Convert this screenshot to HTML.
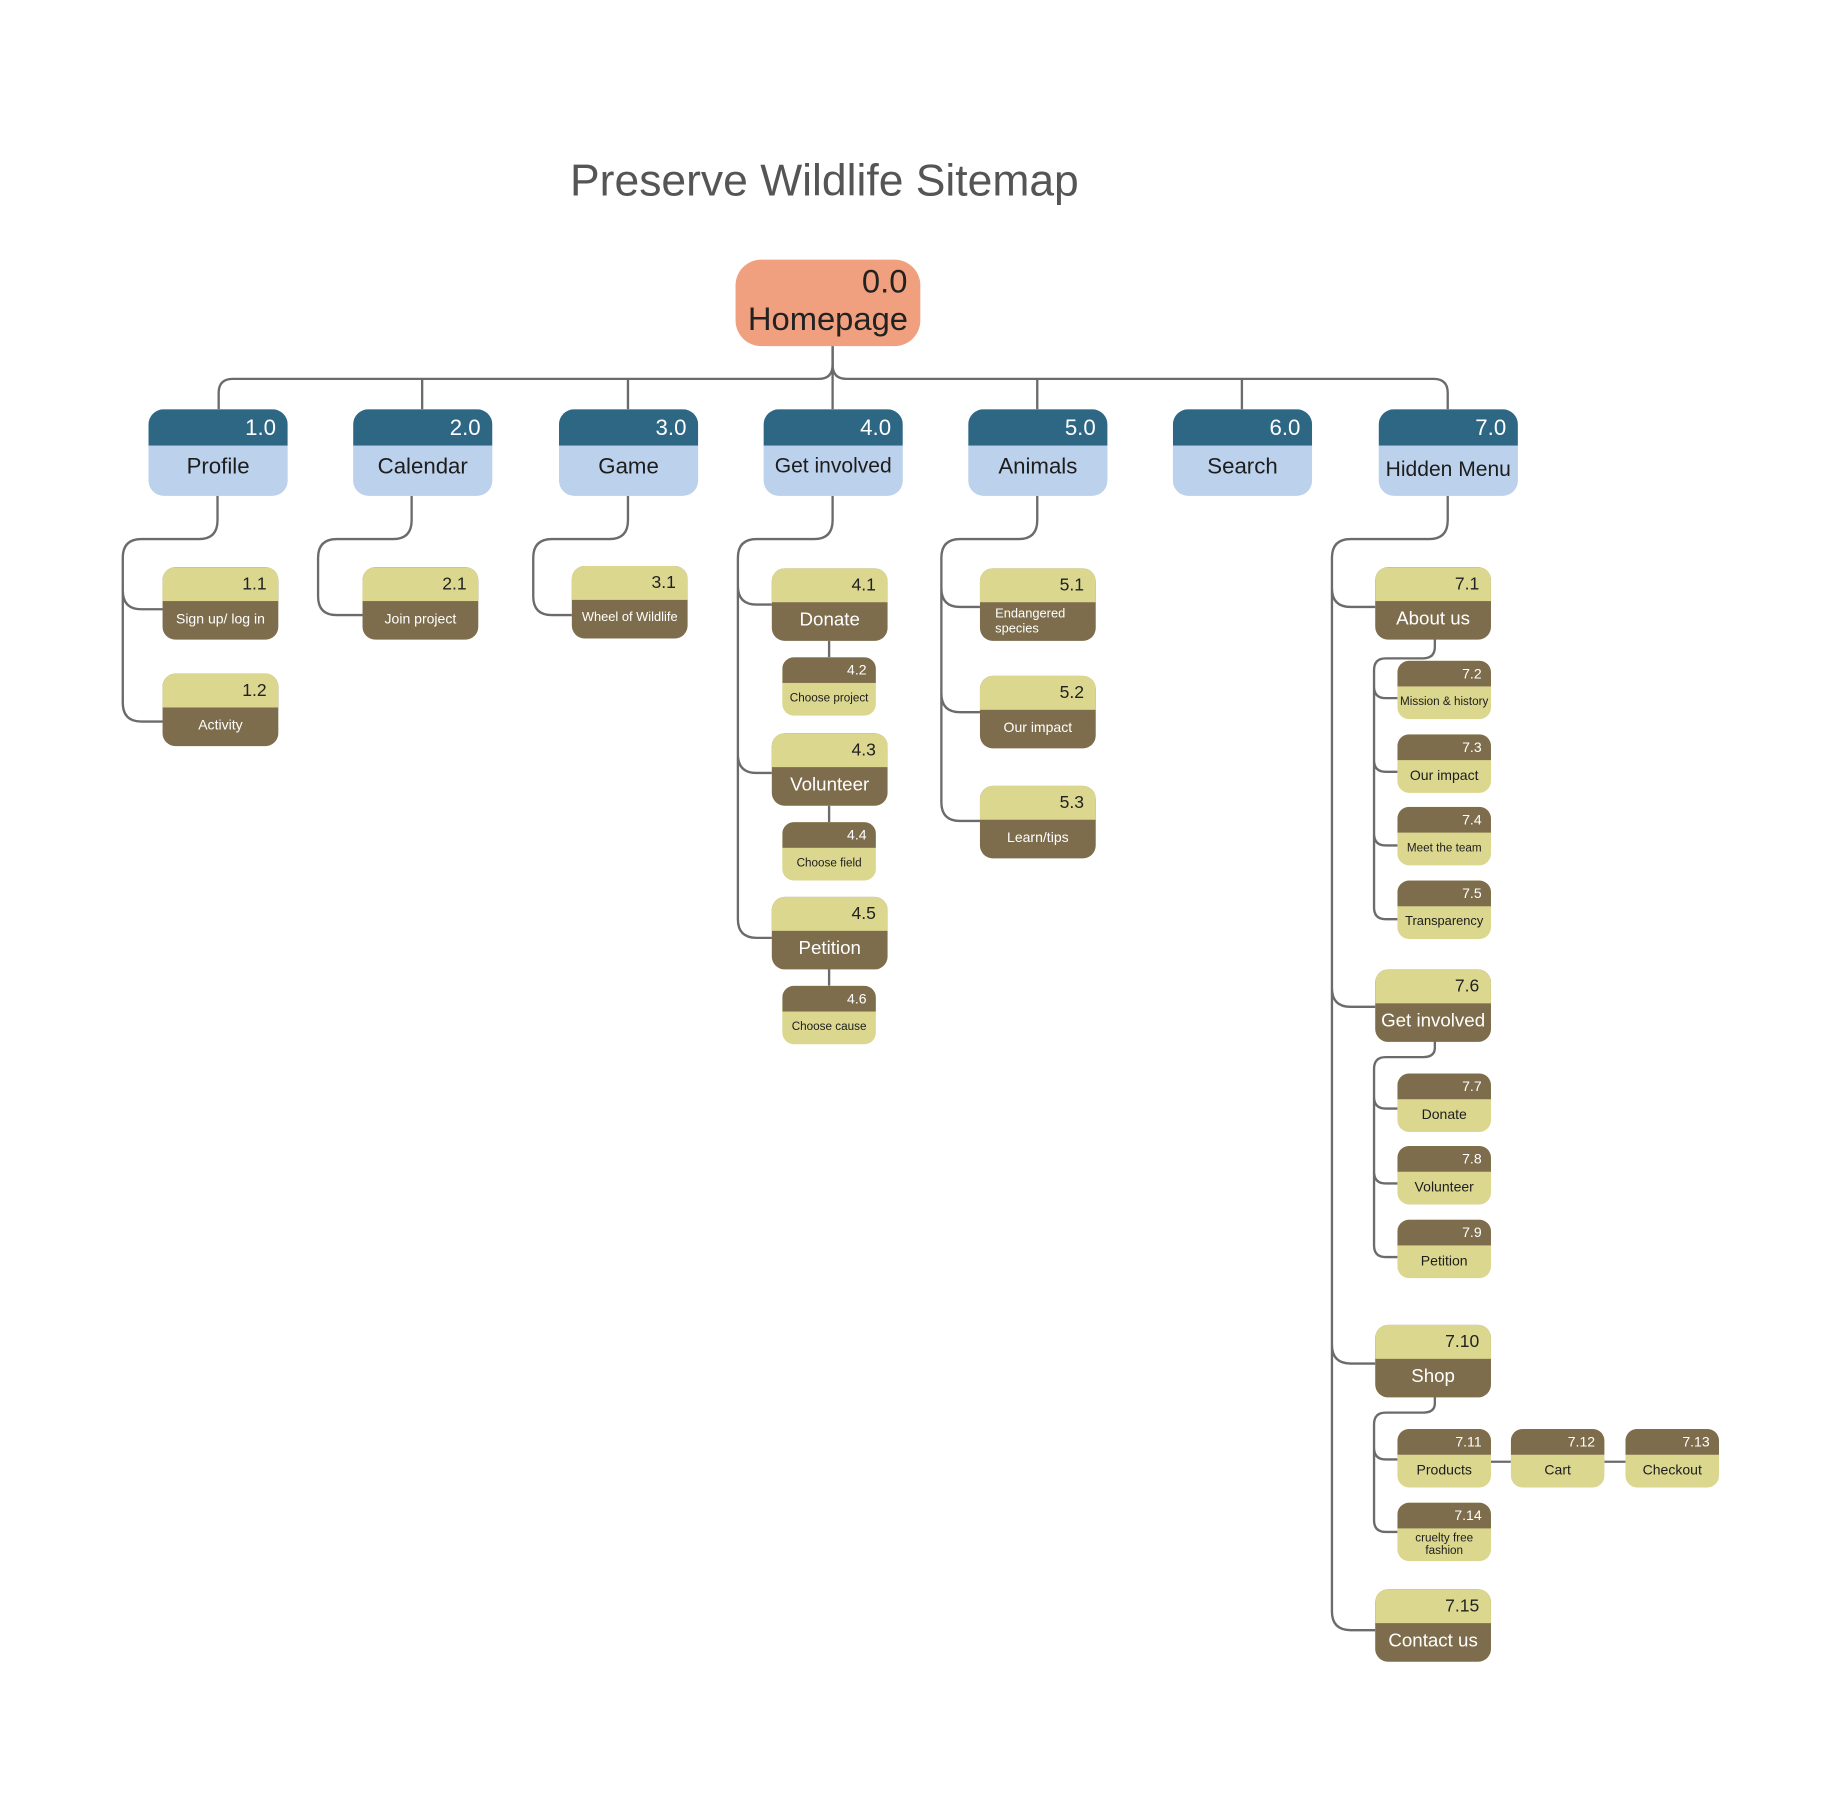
<!DOCTYPE html>
<html><head><meta charset="utf-8"><style>
html,body{margin:0;padding:0;background:#fff;}
body{width:1835px;height:1813px;overflow:hidden;position:relative;font-family:"Liberation Sans",sans-serif;}
#c{position:absolute;left:0;top:0;width:1570px;height:1550px;transform:scale(1.1694);transform-origin:0 0;}
.a{position:absolute;}
.l1{position:absolute;width:119px;height:74px;border-radius:13px;overflow:hidden;background:#BCD1EB;}
.l1 .t{height:31px;background:#2E6784;color:#fff;font-size:19px;text-align:right;padding-right:10px;line-height:34px;box-sizing:border-box;}
.l1 .n{text-align:center;color:#1d1d1d;font-size:19px;line-height:38px;}
.b{position:absolute;width:99px;height:62px;border-radius:11px;overflow:hidden;background:#7E6D4C;}
.b .t{height:29px;background:#DBD78F;color:#222;font-size:15px;text-align:right;padding-right:10px;line-height:30px;box-sizing:border-box;}
.b .n{text-align:center;color:#fff;font-size:12px;line-height:31px;}
.b .n.L{font-size:16px;}
.s{position:absolute;width:80px;height:50px;border-radius:10px;overflow:hidden;background:#DBD78F;}
.s .t{height:22px;background:#7E6D4C;color:#fff;font-size:12px;text-align:right;padding-right:8px;line-height:23px;box-sizing:border-box;}
.s .n{text-align:center;color:#1d1d1d;font-size:11px;line-height:27px;white-space:nowrap;}
</style></head><body><div id="c">
<svg class="a" style="left:0;top:0" width="1570" height="1550" fill="none" stroke="#6b6b6b" stroke-width="2">
<path d="M712 296 V312 Q712 324 700 324 H199 Q187 324 187 336 V350"/>
<path d="M712 312 Q712 324 724 324 H1226 Q1238 324 1238 336 V350"/>
<path d="M712 296 V350 M361 324 V350 M537 324 V350 M887 324 V350 M1062 324 V350"/>
<path d="M186 424 V445 Q186 461 170 461 H121 Q105 461 105 477 V601 Q105 617 121 617 H139 M105 505 Q105 521 121 521 H139"/>
<path d="M352 424 V445 Q352 461 336 461 H288 Q272 461 272 477 V510 Q272 526 288 526 H310"/>
<path d="M537 424 V445 Q537 461 521 461 H472 Q456 461 456 477 V510 Q456 526 472 526 H489"/>
<path d="M712 424 V445 Q712 461 696 461 H647 Q631 461 631 477 V786 Q631 802 647 802 H660 M631 501 Q631 517 647 517 H660 M631 645 Q631 661 647 661 H660"/>
<path d="M709 548 V562 M709 689 V703 M709 828 V843"/>
<path d="M887 424 V445 Q887 461 871 461 H821 Q805 461 805 477 V686 Q805 702 821 702 H838 M805 503 Q805 519 821 519 H838 M805 593 Q805 609 821 609 H838"/>
<path d="M1238 424 V445 Q1238 461 1222 461 H1155 Q1139 461 1139 477 V1378 Q1139 1394 1155 1394 H1176 M1139 503 Q1139 519 1155 519 H1176 M1139 845 Q1139 861 1155 861 H1176 M1139 1150 Q1139 1166 1155 1166 H1176"/>
<path d="M1227 546 V553 Q1227 563 1217 563 H1185 Q1175 563 1175 573 V776 Q1175 786 1185 786 H1195 M1175 587 Q1175 597 1185 597 H1195 M1175 650 Q1175 660 1185 660 H1195 M1175 713 Q1175 723 1185 723 H1195"/>
<path d="M1227 890 V896 Q1227 904 1217 904 H1185 Q1175 904 1175 914 V1065 Q1175 1075 1185 1075 H1195 M1175 938 Q1175 948 1185 948 H1195 M1175 1002 Q1175 1012 1185 1012 H1195"/>
<path d="M1227 1194 V1200 Q1227 1208 1217 1208 H1185 Q1175 1208 1175 1218 V1300 Q1175 1310 1185 1310 H1195 M1175 1238 Q1175 1248 1185 1248 H1195 M1275 1250 H1292 M1372 1250 H1390"/>
</svg>
<div class="a" style="left:405px;top:134px;width:600px;text-align:center;font-size:38px;color:#555;">Preserve Wildlife Sitemap</div>
<div class="a" style="left:629px;top:222px;width:158px;height:74px;border-radius:22px;background:#F0A07E;color:#222;">
<div style="text-align:right;padding-right:11px;font-size:28px;line-height:34px;padding-top:2px;">0.0</div>
<div style="text-align:center;font-size:28px;line-height:30px;">Homepage</div></div>

<div class="l1" style="left:127px;top:350px"><div class="t">1.0</div><div class="n">Profile</div></div>
<div class="l1" style="left:302px;top:350px"><div class="t">2.0</div><div class="n">Calendar</div></div>
<div class="l1" style="left:478px;top:350px"><div class="t">3.0</div><div class="n">Game</div></div>
<div class="l1" style="left:653px;top:350px"><div class="t">4.0</div><div class="n" style="line-height:34px;font-size:18px">Get involved</div></div>
<div class="l1" style="left:828px;top:350px"><div class="t">5.0</div><div class="n">Animals</div></div>
<div class="l1" style="left:1003px;top:350px"><div class="t">6.0</div><div class="n">Search</div></div>
<div class="l1" style="left:1179px;top:350px"><div class="t">7.0</div><div class="n" style="font-size:18px;line-height:40px">Hidden Menu</div></div>

<div class="b" style="left:139px;top:485px"><div class="t">1.1</div><div class="n">Sign up/ log in</div></div>
<div class="b" style="left:139px;top:576px"><div class="t">1.2</div><div class="n">Activity</div></div>
<div class="b" style="left:310px;top:485px"><div class="t">2.1</div><div class="n">Join project</div></div>
<div class="b" style="left:489px;top:484px"><div class="t">3.1</div><div class="n" style="font-size:11px">Wheel of Wildlife</div></div>
<div class="b" style="left:660px;top:486px"><div class="t">4.1</div><div class="n L">Donate</div></div>
<div class="s" style="left:669px;top:562px"><div class="t">4.2</div><div class="n" style="font-size:10px">Choose project</div></div>
<div class="b" style="left:660px;top:627px"><div class="t">4.3</div><div class="n L">Volunteer</div></div>
<div class="s" style="left:669px;top:703px"><div class="t">4.4</div><div class="n" style="font-size:10px">Choose field</div></div>
<div class="b" style="left:660px;top:767px"><div class="t">4.5</div><div class="n L">Petition</div></div>
<div class="s" style="left:669px;top:843px"><div class="t">4.6</div><div class="n" style="font-size:10px">Choose cause</div></div>
<div class="b" style="left:838px;top:486px"><div class="t">5.1</div><div class="n" style="text-align:left;padding-left:13px;font-size:11px;line-height:13px;padding-top:4px">Endangered<br>species</div></div>
<div class="b" style="left:838px;top:578px"><div class="t">5.2</div><div class="n">Our impact</div></div>
<div class="b" style="left:838px;top:672px"><div class="t">5.3</div><div class="n">Learn/tips</div></div>

<div class="b" style="left:1176px;top:485px"><div class="t">7.1</div><div class="n L">About us</div></div>
<div class="s" style="left:1195px;top:565px"><div class="t">7.2</div><div class="n" style="font-size:10px">Mission &amp; history</div></div>
<div class="s" style="left:1195px;top:628px"><div class="t">7.3</div><div class="n" style="font-size:12px">Our impact</div></div>
<div class="s" style="left:1195px;top:690px"><div class="t">7.4</div><div class="n" style="font-size:10px">Meet the team</div></div>
<div class="s" style="left:1195px;top:753px"><div class="t">7.5</div><div class="n">Transparency</div></div>
<div class="b" style="left:1176px;top:829px"><div class="t">7.6</div><div class="n L">Get involved</div></div>
<div class="s" style="left:1195px;top:918px"><div class="t">7.7</div><div class="n" style="font-size:12px">Donate</div></div>
<div class="s" style="left:1195px;top:980px"><div class="t">7.8</div><div class="n" style="font-size:12px">Volunteer</div></div>
<div class="s" style="left:1195px;top:1043px"><div class="t">7.9</div><div class="n" style="font-size:12px">Petition</div></div>
<div class="b" style="left:1176px;top:1133px"><div class="t">7.10</div><div class="n L">Shop</div></div>
<div class="s" style="left:1195px;top:1222px"><div class="t">7.11</div><div class="n" style="font-size:12px">Products</div></div>
<div class="s" style="left:1292px;top:1222px"><div class="t">7.12</div><div class="n" style="font-size:12px">Cart</div></div>
<div class="s" style="left:1390px;top:1222px"><div class="t">7.13</div><div class="n" style="font-size:12px">Checkout</div></div>
<div class="s" style="left:1195px;top:1285px"><div class="t">7.14</div><div class="n" style="font-size:10px;line-height:11px;padding-top:3px">cruelty free<br>fashion</div></div>
<div class="b" style="left:1176px;top:1359px"><div class="t">7.15</div><div class="n L">Contact us</div></div>
</div></body></html>
